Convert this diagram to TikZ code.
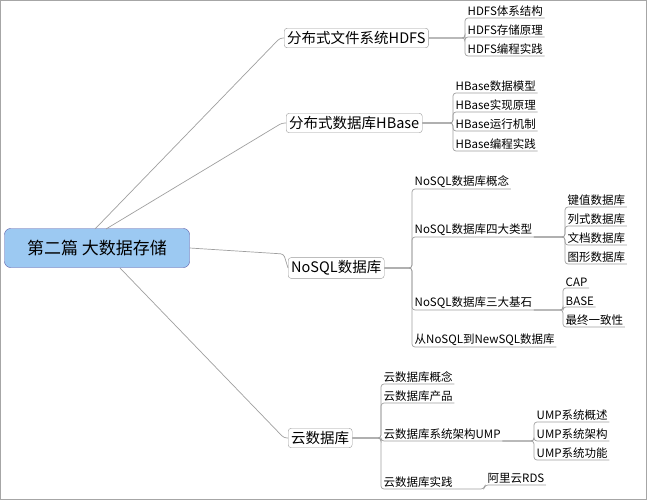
\documentclass[tikz,border=0pt]{standalone}
\usepackage{fontspec}
\setmainfont{Noto Sans CJK SC}
\usepackage{tikz}
\definecolor{rootblue}{HTML}{9CC9F2}
\tikzset{
  topic/.style={draw=gray!80, rounded corners=3pt, fill=white, inner sep=3pt, font=\fontsize{14.5}{16}\selectfont},
  leaf/.style={anchor=south west, inner sep=1.5pt, font=\fontsize{11.5}{13}\selectfont},
  conn/.style={draw=gray!75, line width=0.7pt, rounded corners=3pt},
}
\begin{document}
\begin{tikzpicture}[x=1pt,y=-1pt]
\useasboundingbox (0,0) rectangle (647,500);
\draw[gray!70, line width=1pt] (0.5,0.5) rectangle (646.5,499.5);
% root and main topics
\node[draw=gray!70!blue, fill=rootblue, rounded corners=6pt, minimum width=185pt, minimum height=39pt, font=\fontsize{17}{20}\selectfont] (root) at (97,248) {第二篇 大数据存储};
\node[topic, anchor=west] (hdfs) at (284,38) {分布式文件系统HDFS};
\node[topic, anchor=west] (hbase) at (286,123) {分布式数据库HBase};
\node[topic, anchor=west] (nosql) at (288,268) {NoSQL数据库};
\node[topic, anchor=west] (cloud) at (288,438) {云数据库};
\draw[conn] (95,229) -- ++(185,-191) -- (hdfs.west);
\draw[conn] (106,229) -- ++(176,-106) -- (hbase.west);
\draw[conn] (root.east) -- ++(94,6) -- (nosql.west);
\draw[conn] (120,268) -- ++(164,170) -- (cloud.west);
% HDFS
\node[leaf] (h1) at (466,18) {HDFS体系结构};
\node[leaf] (h2) at (466,37) {HDFS存储原理};
\node[leaf] (h3) at (466,56) {HDFS编程实践};
\foreach \n in {h1,h2,h3}
  \draw[conn] (hdfs.east) -- (465,38) |- (\n.south east);
% HBase
\node[leaf] (b1) at (454,93) {HBase数据模型};
\node[leaf] (b2) at (454,112) {HBase实现原理};
\node[leaf] (b3) at (454,131) {HBase运行机制};
\node[leaf] (b4) at (454,151) {HBase编程实践};
\foreach \n in {b1,b2,b3,b4}
  \draw[conn] (hbase.east) -- (453,123) |- (\n.south east);
% NoSQL
\node[leaf] (n1) at (413,189) {NoSQL数据库概念};
\node[leaf] (n2) at (413,237) {NoSQL数据库四大类型};
\node[leaf] (n3) at (413,310) {NoSQL数据库三大基石};
\node[leaf] (n4) at (413,347) {从NoSQL到NewSQL数据库};
\foreach \n in {n1,n2,n3,n4}
  \draw[conn] (nosql.east) -- (412,268) |- (\n.south east);
\node[leaf] (t1) at (566,207) {键值数据库};
\node[leaf] (t2) at (566,226) {列式数据库};
\node[leaf] (t3) at (566,245) {文档数据库};
\node[leaf] (t4) at (566,264) {图形数据库};
\foreach \n in {t1,t2,t3,t4}
  \draw[conn] (n2.south east) -- (565,237) |- (\n.south east);
\node[leaf] (s1) at (564,288) {CAP};
\node[leaf] (s2) at (564,307) {BASE};
\node[leaf] (s3) at (564,327) {最终一致性};
\foreach \n in {s1,s2,s3}
  \draw[conn] (n3.south east) -- (563,310) |- (\n.south east);
% cloud
\node[leaf] (c1) at (382,384) {云数据库概念};
\node[leaf] (c2) at (382,403) {云数据库产品};
\node[leaf] (c3) at (382,441) {云数据库系统架构UMP};
\node[leaf] (c4) at (382,489) {云数据库实践};
\foreach \n in {c1,c2,c3,c4}
  \draw[conn] (cloud.east) -- (381,438) |- (\n.south east);
\node[leaf] (u1) at (535,422) {UMP系统概述};
\node[leaf] (u2) at (535,441) {UMP系统架构};
\node[leaf] (u3) at (535,460) {UMP系统功能};
\foreach \n in {u1,u2,u3}
  \draw[conn] (c3.south east) -- (534,441) |- (\n.south east);
\node[leaf] (r1) at (486,485) {阿里云RDS};
\draw[conn] (c4.south east) -- (484,489) -- (485,485) -- (r1.south east);
\end{tikzpicture}
\end{document}
